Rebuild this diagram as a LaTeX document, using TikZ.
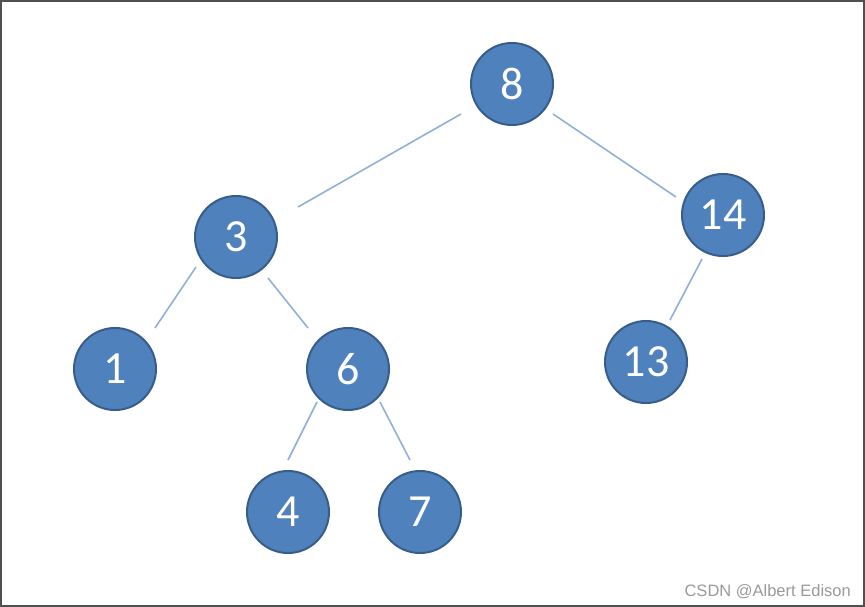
\documentclass[tikz,border=0pt]{standalone}
\usepackage{fontspec}
\usetikzlibrary{calc}
\setmainfont{Carlito}
\newfontfamily\wmfont{Liberation Sans}
\definecolor{nodefill}{HTML}{4F81BD}
\definecolor{nodeline}{HTML}{385D8A}
\definecolor{edgecol}{HTML}{8FB0D9}
\definecolor{framecol}{HTML}{505050}
\begin{document}
\begin{tikzpicture}[x=1pt,y=-1pt,
  treenode/.style={circle,fill=nodefill,draw=nodeline,line width=2pt,minimum size=82pt,inner sep=0pt,text=white,font=\fontsize{46}{46}\selectfont},
  edge/.style={draw=edgecol,line width=1.6pt}]
\useasboundingbox (0,0) rectangle (865,607);
\draw[framecol,line width=2pt] (1,1) rectangle (864,606);
\node[treenode] (n8) at (512,84) {8};
\node[treenode] (n3) at (236,237) {3};
\node[treenode] (n14) at (723,215) {14};
\node[treenode] (n1) at (115,369) {1};
\node[treenode] (n6) at (348,369) {6};
\node[treenode] (n13) at (646,362) {13};
\node[treenode] (n4) at (288,512) {4};
\node[treenode] (n7) at (420,512) {7};
\draw[edge] ($(n8.center)+(-51,30)$) -- ($(n3.center)+(62,-30)$);
\draw[edge] ($(n8.center)+(41,30)$) -- ($(n14.center)+(-47,-18)$);
\draw[edge] ($(n3.center)+(-40,30)$) -- ($(n1.center)+(40,-41)$);
\draw[edge] ($(n3.center)+(32,41)$) -- ($(n6.center)+(-40,-41)$);
\draw[edge] ($(n6.center)+(-31,33)$) -- ($(n4.center)+(0,-52)$);
\draw[edge] ($(n6.center)+(32,33)$) -- ($(n7.center)+(-10,-52)$);
\draw[edge] ($(n14.center)+(-21,44)$) -- ($(n13.center)+(24,-42)$);
\node[anchor=base east,text=gray!80,font=\wmfont\fontsize{16.5}{16.5}\selectfont,inner sep=0pt] (wm) at (851,596) {CSDN @Albert Edison};
\end{tikzpicture}
\end{document}
